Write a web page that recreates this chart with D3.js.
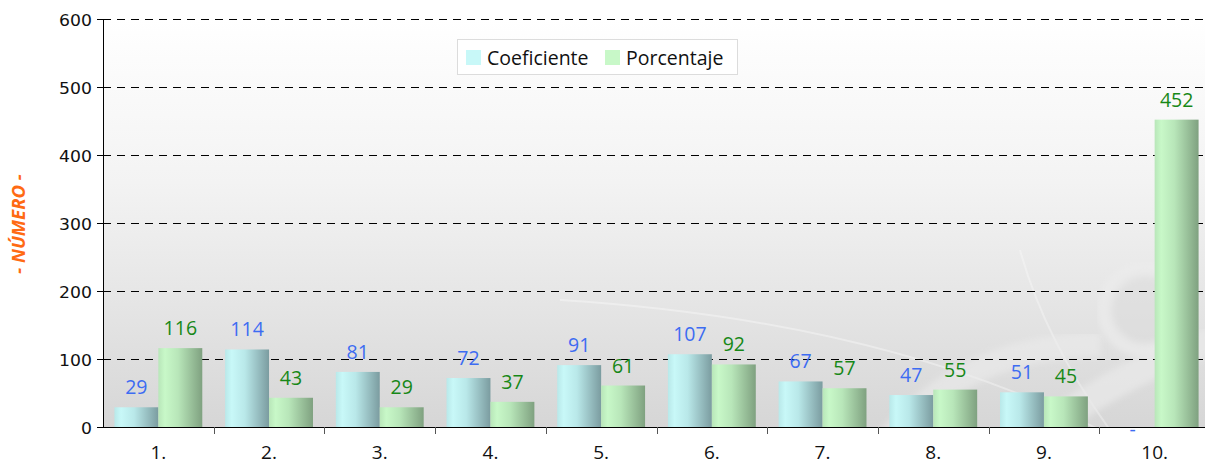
<!DOCTYPE html>
<html>
<head>
<meta charset="utf-8">
<script src="https://cdn.jsdelivr.net/npm/d3@7"></script>
<style>
  html, body { margin: 0; padding: 0; background: #fff; }
  svg { display: block; }
</style>
</head>
<body>
<div id="chart"></div>
<script>
// Chart data
const categories = ['1.', '2.', '3.', '4.', '5.', '6.', '7.', '8.', '9.', '10.'];
const coeficiente = [29, 114, 81, 72, 91, 107, 67, 47, 51, 0];
const porcentaje = [116, 43, 29, 37, 61, 92, 57, 55, 45, 452];
const seriesNames = ['Coeficiente', 'Porcentaje'];
const yTicks = [0, 100, 200, 300, 400, 500, 600];

(function() {
  'use strict';

  const width = 1205, height = 464;
  const left = 103, top = 19, bottom = 427, right = 1210;

  const svg = d3.select('#chart').append('svg')
    .attr('width', width)
    .attr('height', height);

  const defs = svg.append('defs');

  // Plot background gradient
  const bg = defs.append('linearGradient').attr('id', 'bg')
    .attr('x1', 0).attr('y1', 0).attr('x2', 0).attr('y2', 1);
  bg.append('stop').attr('offset', '0%').attr('stop-color', '#ffffff');
  bg.append('stop').attr('offset', '40%').attr('stop-color', '#f3f3f3');
  bg.append('stop').attr('offset', '70%').attr('stop-color', '#e5e5e5');
  bg.append('stop').attr('offset', '100%').attr('stop-color', '#d6d6d6');

  // Bar gradients
  function barGradient(id, light, mid, dark) {
    const g = defs.append('linearGradient').attr('id', id)
      .attr('x1', 0).attr('y1', 0).attr('x2', 1).attr('y2', 0);
    g.append('stop').attr('offset', '0%').attr('stop-color', mid);
    g.append('stop').attr('offset', '15%').attr('stop-color', light);
    g.append('stop').attr('offset', '45%').attr('stop-color', mid);
    g.append('stop').attr('offset', '100%').attr('stop-color', dark);
  }
  barGradient('gCoef', '#c8f8f8', '#b9e8e9', '#7b9ca0');
  barGradient('gPct', '#c8f8c8', '#b8e6b9', '#7fa180');

  const clip = defs.append('clipPath').attr('id', 'plotClip');
  clip.append('rect').attr('x', left).attr('y', top)
    .attr('width', width - left).attr('height', bottom - top);

  const blur = defs.append('filter').attr('id', 'soft');
  blur.append('feGaussianBlur').attr('stdDeviation', 3);

  // Scales
  const x = d3.scaleBand().domain(categories).range([left, right]).padding(0);
  const xs = d3.scaleBand().domain(seriesNames).range([0, x.bandwidth()])
    .paddingInner(0).paddingOuter(0.26);
  const y = d3.scaleLinear().domain([0, 600]).range([bottom, top]);

  // Background
  svg.append('rect')
    .attr('x', left).attr('y', top)
    .attr('width', width - left).attr('height', bottom - top)
    .attr('fill', 'url(#bg)');

  // Decorative watermark swirl (faint)
  const deco = svg.append('g').attr('clip-path', 'url(#plotClip)');
  deco.append('path')
    .attr('d', 'M 560 300 Q 880 320 1100 430')
    .attr('fill', 'none').attr('stroke', '#ffffff').attr('stroke-opacity', 0.35).attr('stroke-width', 2);
  deco.append('path')
    .attr('d', 'M 1020 250 Q 1045 340 1110 430')
    .attr('fill', 'none').attr('stroke', '#ffffff').attr('stroke-opacity', 0.3).attr('stroke-width', 2);
  deco.append('path')
    .attr('d', 'M 880 450 Q 960 345 1100 345')
    .attr('fill', 'none').attr('stroke', '#ececec').attr('stroke-opacity', 0.55).attr('stroke-width', 24)
    .attr('filter', 'url(#soft)');
  deco.append('circle')
    .attr('cx', 1145).attr('cy', 310).attr('r', 40)
    .attr('fill', '#dadada').attr('fill-opacity', 0.5)
    .attr('stroke', '#ececec').attr('stroke-opacity', 0.7).attr('stroke-width', 14)
    .attr('filter', 'url(#soft)');
  deco.append('path')
    .attr('d', 'M 1020 450 Q 1110 375 1215 340')
    .attr('fill', 'none').attr('stroke', '#eaeaea').attr('stroke-opacity', 0.7).attr('stroke-width', 28)
    .attr('filter', 'url(#soft)');

  // Gridlines
  svg.append('g')
    .selectAll('line')
    .data(yTicks.filter(d => d > 0))
    .join('line')
    .attr('x1', left).attr('x2', width)
    .attr('y1', d => y(d) + 0.5).attr('y2', d => y(d) + 0.5)
    .attr('stroke', '#000')
    .attr('stroke-width', 1)
    .attr('stroke-dasharray', '8,6');

  // Bars
  const groups = svg.append('g')
    .selectAll('g')
    .data(categories)
    .join('g')
    .attr('transform', d => `translate(${x(d)},0)`);

  const series = [
    { name: 'Coeficiente', values: coeficiente, fill: 'url(#gCoef)', color: '#3d6cf2' },
    { name: 'Porcentaje', values: porcentaje, fill: 'url(#gPct)', color: '#178817' }
  ];

  groups.selectAll('rect')
    .data((d, i) => series.map(s => ({ s: s, v: s.values[i] })))
    .join('rect')
    .attr('x', d => xs(d.s.name))
    .attr('y', d => y(d.v))
    .attr('width', xs.bandwidth())
    .attr('height', d => bottom - y(d.v))
    .attr('fill', d => d.s.fill);

  // Value labels
  groups.selectAll('text')
    .data((d, i) => series.map(s => ({ s: s, v: s.values[i] })))
    .join('text')
    .attr('x', d => xs(d.s.name) + xs.bandwidth() / 2)
    .attr('y', d => d.v === 0 ? y(0) + 9 : y(d.v) - 13)
    .attr('text-anchor', 'middle')
    .attr('font-family', '"Open Sans", sans-serif')
    .attr('font-size', '19.5px')
    .attr('fill', d => d.s.color)
    .text(d => d.v === 0 ? '-' : d.v);

  // Y axis
  const yAxis = svg.append('g')
    .attr('transform', `translate(${left},0)`)
    .call(d3.axisLeft(y).tickValues(yTicks).tickSize(6).tickPadding(0));
  yAxis.select('.domain').attr('stroke', '#000');
  yAxis.selectAll('.tick line').attr('stroke', '#000');
  yAxis.selectAll('.tick text')
    .attr('x', -11 / 1.15)
    .attr('dy', '0.45em')
    .attr('transform', 'scale(1.15,1)')
    .attr('font-family', '"DejaVu Sans", sans-serif')
    .attr('font-size', '15px')
    .attr('fill', '#111');

  // X axis
  svg.append('line')
    .attr('x1', left).attr('x2', width)
    .attr('y1', bottom + 0.5).attr('y2', bottom + 0.5)
    .attr('stroke', '#000');
  svg.append('g')
    .selectAll('line')
    .data(categories.slice(1))
    .join('line')
    .attr('x1', d => Math.round(x(d)) + 0.5).attr('x2', d => Math.round(x(d)) + 0.5)
    .attr('y1', bottom).attr('y2', bottom + 7)
    .attr('stroke', '#555');
  svg.append('g')
    .selectAll('text')
    .data(categories)
    .join('text')
    .attr('x', d => x(d) + x.bandwidth() / 2)
    .attr('y', 459)
    .attr('text-anchor', 'middle')
    .attr('font-family', '"Open Sans", sans-serif')
    .attr('font-size', '19px')
    .attr('fill', '#111')
    .text(d => d);

  // Y axis title
  svg.append('text')
    .attr('transform', 'translate(25,224) rotate(-90)')
    .attr('text-anchor', 'middle')
    .attr('font-family', '"Open Sans", sans-serif')
    .attr('font-size', '18.5px')
    .attr('font-weight', 'bold')
    .attr('font-style', 'italic')
    .attr('fill', '#ff6a13')
    .text('- NÚMERO -');

  // Legend
  const legend = svg.append('g');
  legend.append('rect')
    .attr('x', 457.5).attr('y', 39.5)
    .attr('width', 280).attr('height', 35)
    .attr('fill', '#ffffff').attr('fill-opacity', 0.92)
    .attr('stroke', '#dcdcdc');
  const legendX = [466, 605];
  const legendColors = ['#c8f8f8', '#c8f8c8'];
  seriesNames.forEach((name, i) => {
    legend.append('rect')
      .attr('x', legendX[i]).attr('y', 50)
      .attr('width', 15).attr('height', 15)
      .attr('fill', legendColors[i]);
    legend.append('text')
      .attr('x', legendX[i] + 21).attr('y', 65)
      .attr('font-family', '"Open Sans", sans-serif')
      .attr('font-size', '19.5px')
      .attr('fill', '#111')
      .text(name);
  });
})();
</script>
</body>
</html>
